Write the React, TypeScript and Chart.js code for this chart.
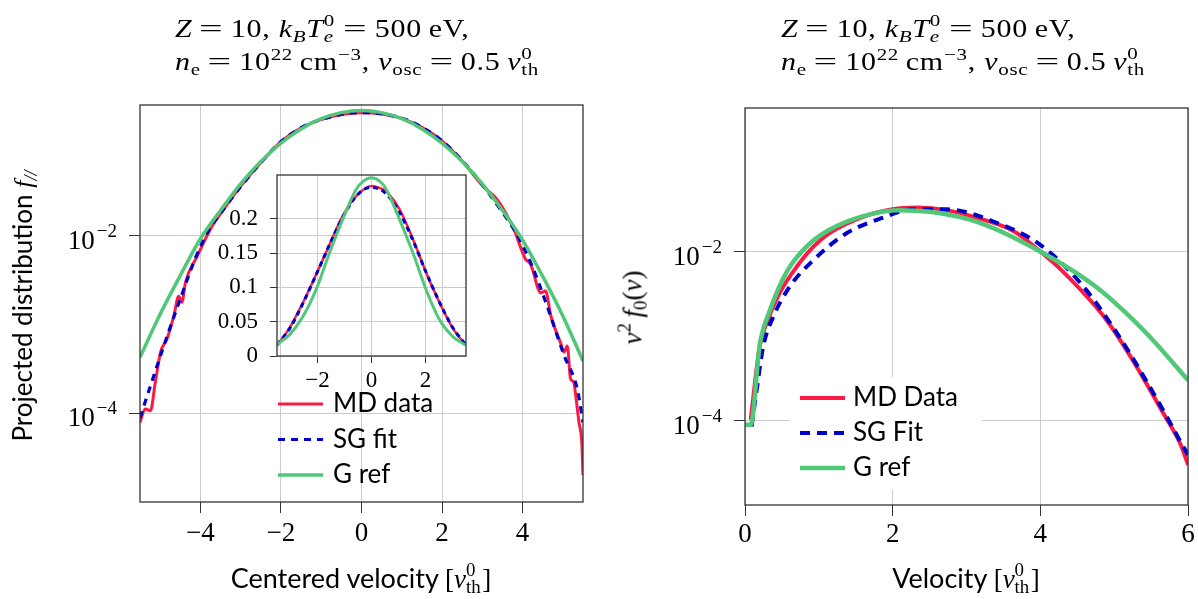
import React, { useEffect, useRef } from 'react';
import { Chart, registerables } from 'chart.js';

Chart.register(...registerables);

// ---------------- data: left panel (log scale) ----------------
const leftMdV = [-5.5, -5.37, -5.24, -5.12, -4.99, -4.83, -4.66, -4.54, -4.46, -4.37, -4.08, -3.75, -3.5, -3.25, -3.0, -2.5, -2.0, -1.5, -1.0, -0.5, 0, 0.5, 1.0, 1.5, 2.0, 2.5, 3.0, 3.37, 3.78, 4.07, 4.2, 4.45, 4.57, 4.7, 4.94, 5.03, 5.11, 5.19, 5.27, 5.32, 5.4, 5.47, 5.5];
const leftMdF = [7.9e-5, 1.12e-4, 1.07e-4, 2.24e-4, 4.9e-4, 6.9e-4, 1.26e-3, 2.09e-3, 1.78e-3, 3.0e-3, 5.9e-3, 0.012, 0.0178, 0.0257, 0.0365, 0.067, 0.116, 0.166, 0.205, 0.234, 0.246, 0.238, 0.212, 0.168, 0.118, 0.07, 0.037, 0.0257, 0.012, 0.0055, 0.0048, 0.00229, 0.0024, 0.00126, 6.3e-4, 4.9e-4, 5.75e-4, 2.45e-4, 2.24e-4, 1.58e-4, 7.9e-5, 4.7e-5, 2.0e-5];
const leftSgV = [-5.5, -5.37, -5.16, -4.91, -4.5, -4.08, -3.75, -3.5, -3.0, -2.5, -2.0, -1.5, -1.0, -0.5, 0, 0.5, 1.0, 1.5, 2.0, 2.5, 3.0, 3.5, 3.78, 4.2, 4.61, 5.03, 5.36, 5.5];
const leftSgF = [8.9e-5, 1.35e-4, 2.63e-4, 5.75e-4, 1.95e-3, 6.3e-3, 0.0125, 0.018, 0.036, 0.067, 0.116, 0.166, 0.206, 0.235, 0.246, 0.239, 0.213, 0.169, 0.118, 0.071, 0.038, 0.0185, 0.012, 0.005, 1.62e-3, 4.5e-4, 1.86e-4, 7.9e-5];
const leftGV = [-5.5, -5.0, -4.5, -4.0, -3.5, -3.0, -2.5, -2.0, -1.5, -1.0, -0.5, 0, 0.5, 1.0, 1.5, 2.0, 2.5, 3.0, 3.5, 4.0, 4.5, 5.0, 5.5];
const leftGF = [4.3e-4, 0.00131, 0.00358, 0.0093, 0.0194, 0.0387, 0.0692, 0.1113, 0.1612, 0.21, 0.2461, 0.2595, 0.2461, 0.21, 0.1612, 0.1113, 0.0692, 0.0387, 0.0194, 0.009, 0.0035, 0.00125, 3.9e-4];

// ---------------- data: inset (linear scale) ----------------
const insetMdV = [-3.5, -3.05, -2.55, -2.06, -1.56, -1.07, -0.57, 0, 0.42, 0.6, 1.04, 1.54, 2.03, 2.53, 3.02, 3.5];
const insetMdF = [0.0157, 0.04, 0.077, 0.118, 0.162, 0.204, 0.233, 0.248, 0.243, 0.238, 0.214, 0.17, 0.121, 0.077, 0.04, 0.0157];
const insetSgV = [-3.5, -3.0, -2.5, -2.0, -1.5, -1.0, -0.5, 0, 0.5, 1.0, 1.5, 2.0, 2.5, 3.0, 3.5];
const insetSgF = [0.016, 0.042, 0.08, 0.123, 0.167, 0.207, 0.236, 0.246, 0.238, 0.212, 0.172, 0.124, 0.08, 0.042, 0.016];
const insetGV = [-3.5, -3.05, -2.55, -2.06, -1.56, -1.07, -0.57, -0.3, 0, 0.3, 0.55, 1.04, 1.54, 2.03, 2.53, 3.02, 3.5];
const insetGF = [0.0171, 0.0304, 0.057, 0.096, 0.15, 0.199, 0.243, 0.255, 0.26, 0.255, 0.243, 0.199, 0.15, 0.096, 0.052, 0.028, 0.0157];

// ---------------- data: right panel (log scale) ----------------
const rightMdV = [0.077, 0.2, 0.29, 0.47, 0.7, 0.93, 1.15, 1.6, 2.0, 2.33, 2.73, 3.18, 3.64, 4.0, 4.31, 4.86, 5.22, 5.67, 5.9, 6.0];
const rightMdF = [1.02e-4, 7.6e-4, 1.41e-3, 3.24e-3, 6.6e-3, 0.0115, 0.0166, 0.0257, 0.0316, 0.0331, 0.0309, 0.0245, 0.0174, 0.01, 0.00575, 0.0017, 5.75e-4, 1.2e-4, 5.2e-5, 3.0e-5];
const rightSgV = [0.09, 0.158, 0.248, 0.384, 0.61, 0.926, 1.38, 1.83, 2.28, 2.73, 3.41, 4.0, 4.54, 4.99, 5.44, 6.0];
const rightSgF = [8.5e-5, 2.29e-4, 7.6e-4, 1.7e-3, 3.89e-3, 7.9e-3, 0.0166, 0.0245, 0.0316, 0.0316, 0.0219, 0.012, 0.00427, 0.00125, 2.9e-4, 3.9e-5];
const rightGV = [0, 0.077, 0.2, 0.34, 0.565, 0.836, 1.15, 1.6, 2.06, 2.51, 3.18, 4.0, 4.77, 5.44, 6.0];
const rightGF = [8.9e-5, 8.9e-5, 7.9e-4, 2.04e-3, 5.75e-3, 0.0115, 0.0182, 0.0263, 0.0309, 0.0295, 0.0219, 0.01, 0.00372, 0.00107, 3.0e-4];

// ---------------- ticks & labels ----------------
const leftXTicks = [-4, -2, 0, 2, 4];
const rightXTicks = [0, 2, 4, 6];
const logYTicks = [1e-4, 1e-2];
const insetXTicks = [-2, 0, 2];
const insetYTicks = [0, 0.05, 0.1, 0.15, 0.2];
const leftLegendLabels = ['MD data', 'SG fit', 'G ref'];
const rightLegendLabels = ['MD Data', 'SG Fit', 'G ref'];

const RED = '#fa1a44';
const BLUE = '#0000cc';
const GREEN = '#50c878';
const GRID = '#cccccc';
const FRAME = '#333333';
const SERIF = '"Liberation Serif", "DejaVu Serif", serif';
const SANS = 'Lato, "Open Sans", sans-serif';

const pts = (xs: number[], ys: number[]) => xs.map((x, i) => ({ x, y: ys[i] }));
const fmt = (v: number) => (v < 0 ? '\u2212' + Math.abs(v) : String(v));

function framePlugin(width: number) {
  return {
    id: 'frame',
    afterDatasetsDraw(chart: any) {
      const { ctx, chartArea: a } = chart;
      ctx.save();
      ctx.strokeStyle = FRAME;
      ctx.lineWidth = width;
      ctx.setLineDash([]);
      ctx.strokeRect(a.left, a.top, a.right - a.left, a.bottom - a.top);
      ctx.restore();
    },
  };
}

function logLabelPlugin(ticks: number[], gap: number) {
  return {
    id: 'logLabels',
    afterDraw(chart: any) {
      const { ctx, chartArea: a } = chart;
      const ys = chart.scales.y;
      ctx.save();
      ctx.fillStyle = '#000';
      ctx.textAlign = 'left';
      ctx.textBaseline = 'alphabetic';
      for (const t of ticks) {
        const py = ys.getPixelForValue(t);
        const exp = '\u2212' + Math.round(-Math.log10(t));
        ctx.font = `19px ${SERIF}`;
        const ew = ctx.measureText(exp).width;
        ctx.font = `27px ${SERIF}`;
        const bw = ctx.measureText('10').width;
        const end = a.left - gap;
        ctx.fillText('10', end - ew - bw - 2, py + 13);
        ctx.font = `19px ${SERIF}`;
        ctx.fillText(exp, end - ew, py + 1);
      }
      ctx.restore();
    },
  };
}

function legendPlugin(cfg: { x0: number; len: number; tx: number; y0: number; dy: number; labels: string[]; box?: number[] }) {
  return {
    id: 'customLegend',
    afterDraw(chart: any) {
      const { ctx } = chart;
      ctx.save();
      if (cfg.box) {
        ctx.fillStyle = '#ffffff';
        ctx.fillRect(cfg.box[0], cfg.box[1], cfg.box[2], cfg.box[3]);
      }
      chart.data.datasets.forEach((ds: any, i: number) => {
        const y = cfg.y0 + i * cfg.dy;
        ctx.strokeStyle = ds.borderColor;
        ctx.lineWidth = ds.borderWidth;
        ctx.setLineDash(ds.borderDash || []);
        ctx.beginPath();
        ctx.moveTo(cfg.x0, y);
        ctx.lineTo(cfg.x0 + cfg.len, y);
        ctx.stroke();
        ctx.setLineDash([]);
        ctx.fillStyle = '#000';
        ctx.font = `26px ${SANS}`;
        ctx.textAlign = 'left';
        ctx.textBaseline = 'alphabetic';
        ctx.fillText(cfg.labels[i], cfg.tx, y + 8);
      });
      ctx.restore();
    },
  };
}

function linScale(min: number, max: number, ticks: number[], size: number, pad: number, tl: number, horizontal: boolean, boxSize: number) {
  return {
    type: 'linear',
    min,
    max,
    afterBuildTicks: (s: any) => {
      s.ticks = ticks.map((v) => ({ value: v }));
    },
    afterFit: (s: any) => {
      if (horizontal) {
        s.height = boxSize;
        s.paddingLeft = 0;
        s.paddingRight = 0;
      } else {
        s.width = boxSize;
        s.paddingTop = 0;
        s.paddingBottom = 0;
      }
    },
    grid: { color: GRID, lineWidth: 1, drawTicks: true, tickLength: tl, tickColor: FRAME, tickWidth: 1 },
    border: { display: false },
    ticks: {
      font: { family: SERIF, size },
      color: '#000',
      padding: pad,
      maxRotation: 0,
      autoSkip: false,
      callback: (v: number) => fmt(v),
    },
  };
}

function logScale(min: number, max: number, tl: number) {
  return {
    type: 'logarithmic',
    min,
    max,
    afterBuildTicks: (s: any) => {
      s.ticks = logYTicks.map((v) => ({ value: v }));
    },
    afterFit: (s: any) => {
      s.width = tl;
      s.paddingTop = 0;
      s.paddingBottom = 0;
    },
    grid: { color: GRID, lineWidth: 1, drawTicks: true, tickLength: tl, tickColor: FRAME, tickWidth: 1 },
    border: { display: false },
    ticks: { display: false },
  };
}

function line(label: string, data: any[], color: string, width: number, order: number, dash?: number[]) {
  return {
    label,
    data,
    borderColor: color,
    backgroundColor: color,
    borderWidth: width,
    borderDash: dash || [],
    pointRadius: 0,
    fill: false,
    cubicInterpolationMode: 'monotone',
    order,
  };
}

const baseOptions = {
  responsive: false,
  animation: false,
  devicePixelRatio: 1,
  events: [],
  parsing: false,
  normalized: true,
  plugins: { legend: { display: false }, tooltip: { enabled: false }, title: { display: false } },
};

// --------- math-ish HTML helpers ---------
const Sup = ({ s, children }: any) => (
  <span style={{ position: 'relative', top: -0.42 * s, fontSize: 0.7 * s }}>{children}</span>
);
const Sub = ({ s, children }: any) => (
  <span style={{ position: 'relative', top: 0.2 * s, fontSize: 0.7 * s }}>{children}</span>
);
const SupSub = ({ s, sup, sub, w }: any) => (
  <span style={{ display: 'inline-block', position: 'relative', width: w, height: 0.8 * s }}>
    <span style={{ position: 'absolute', left: 0, top: (0.8 - 0.42 - 0.586) * s, fontSize: 0.7 * s, lineHeight: `${0.7 * s}px`, whiteSpace: 'nowrap' }}>{sup}</span>
    <span style={{ position: 'absolute', left: 0, top: (0.8 + 0.22 - 0.586) * s, fontSize: 0.7 * s, lineHeight: `${0.7 * s}px`, whiteSpace: 'nowrap' }}>{sub}</span>
  </span>
);
const Eq = ({ s }: any) => (
  <span style={{ display: 'inline-block', width: 0.8 * s, margin: `0 ${0.24 * s}px`, textAlign: 'center' }}>
    <span style={{ display: 'inline-block', transform: 'scaleX(1.4)' }}>=</span>
  </span>
);

function Title({ left }: { left: number }) {
  const s = 25;
  const st: any = {
    position: 'absolute', left, whiteSpace: 'nowrap', fontFamily: SERIF, fontSize: s, lineHeight: `${s}px`,
    letterSpacing: '0.6px', color: '#000', transform: 'scaleX(1.2)', transformOrigin: 'left top',
  };
  return (
    <>
      <div style={{ ...st, top: 36.7 - 0.837 * s }}>
        <i>Z</i><Eq s={s} />10, <i>k</i><Sub s={s}><i>B</i></Sub><i>T</i><SupSub s={s} sup="0" sub={<i>e</i>} w={0.42 * s} /><Eq s={s} />500{'\u2009'}eV,
      </div>
      <div style={{ ...st, top: 70 - 0.837 * s }}>
        <i>n</i><Sub s={s}>e</Sub><Eq s={s} />10<Sup s={s}>22</Sup>{'\u2009'}cm<Sup s={s}>{'\u2212'}3</Sup>, <i>v</i><Sub s={s}>osc</Sub><Eq s={s} />0.5{'\u2009'}<i>v</i><SupSub s={s} sup="0" sub="th" w={0.62 * s} />
      </div>
    </>
  );
}

function XTitle({ cx, text }: { cx: number; text: string }) {
  const s = 27;
  return (
    <div style={{ position: 'absolute', left: cx - 250, width: 500, top: 588 - 0.887 * s, textAlign: 'center', fontFamily: SANS, fontSize: s, lineHeight: `${s}px`, whiteSpace: 'nowrap', color: '#000' }}>
      {text} <span style={{ fontFamily: SERIF }}>[<i>v</i><SupSub s={s} sup="0" sub="th" w={0.6 * s} />]</span>
    </div>
  );
}

export default function App() {
  const leftRef = useRef<HTMLCanvasElement>(null);
  const insetRef = useRef<HTMLCanvasElement>(null);
  const rightRef = useRef<HTMLCanvasElement>(null);

  useEffect(() => {
    const charts: Chart[] = [];

    charts.push(
      new Chart(leftRef.current as HTMLCanvasElement, {
        type: 'line',
        data: {
          datasets: [
            line('MD data', pts(leftMdV, leftMdF), RED, 3, 3),
            line('SG fit', pts(leftSgV, leftSgF), BLUE, 3.2, 2, [7, 6]),
            line('G ref', pts(leftGV, leftGF), GREEN, 3.5, 1),
          ],
        },
        options: {
          ...baseOptions,
          layout: { padding: { left: 129, right: 17, top: 105, bottom: 37 } },
          scales: {
            x: linScale(-5.5, 5.5, leftXTicks, 27, 5, 11, true, 60),
            y: logScale(1e-5, 0.3, 11),
          },
        } as any,
        plugins: [
          framePlugin(1.3),
          logLabelPlugin(logYTicks, 23),
          legendPlugin({ x0: 278, len: 45, tx: 333, y0: 404, dy: 35.5, labels: leftLegendLabels }),
        ],
      } as any)
    );

    charts.push(
      new Chart(insetRef.current as HTMLCanvasElement, {
        type: 'line',
        data: {
          datasets: [
            line('MD data', pts(insetMdV, insetMdF), RED, 2.5, 3),
            line('SG fit', pts(insetSgV, insetSgF), BLUE, 3, 2, [5, 4]),
            line('G ref', pts(insetGV, insetGF), GREEN, 3, 1),
          ],
        },
        options: {
          ...baseOptions,
          layout: { padding: { left: 12, right: 34, top: 25, bottom: 4 } },
          scales: {
            x: linScale(-3.5, 3.5, insetXTicks, 23, 4, 7, true, 40),
            y: linScale(0, 0.264, insetYTicks, 23, 12, 7, false, 65),
          },
        } as any,
        plugins: [framePlugin(1.3)],
      } as any)
    );

    charts.push(
      new Chart(rightRef.current as HTMLCanvasElement, {
        type: 'line',
        data: {
          datasets: [
            line('MD Data', pts(rightMdV, rightMdF), RED, 4, 3),
            line('SG Fit', pts(rightSgV, rightSgF), BLUE, 4, 2, [10, 7]),
            line('G ref', pts(rightGV, rightGF), GREEN, 4.5, 1),
          ],
        },
        options: {
          ...baseOptions,
          layout: { padding: { left: 134, right: 10, top: 108, bottom: 34 } },
          scales: {
            x: linScale(0, 6, rightXTicks, 27, 3, 11, true, 60),
            y: logScale(1e-5, 0.5, 11),
          },
        } as any,
        plugins: [
          framePlugin(1.3),
          logLabelPlugin(logYTicks, 23),
          legendPlugin({ x0: 200, len: 45, tx: 253, y0: 398, dy: 35, labels: rightLegendLabels, box: [190, 377, 192, 113] }),
        ],
      } as any)
    );

    return () => charts.forEach((c) => c.destroy());
  }, []);

  const canvasStyle = (left: number, top: number, w: number, h: number): any => ({ position: 'absolute', left, top, width: w, height: h });

  return (
    <div style={{ position: 'absolute', left: 0, top: 0, width: 1198, height: 599, background: '#fff', overflow: 'hidden' }}>
      <canvas ref={leftRef} width={600} height={599} style={canvasStyle(0, 0, 600, 599)} />
      <canvas ref={rightRef} width={598} height={599} style={canvasStyle(600, 0, 598, 599)} />
      <canvas ref={insetRef} width={300} height={250} style={canvasStyle(200, 150, 300, 250)} />
      <Title left={175} />
      <Title left={781} />
      <XTitle cx={361} text="Centered velocity" />
      <XTitle cx={966} text="Velocity" />
      <div style={{ position: 'absolute', left: 21.7 - 200, top: 306 - 13, width: 400, height: 26, lineHeight: '26px', textAlign: 'center', transform: 'rotate(-90deg)', fontFamily: SANS, fontSize: 26, whiteSpace: 'nowrap', color: '#000' }}>
        Projected distribution <i style={{ fontFamily: SERIF }}>f</i><Sub s={26}><i style={{ fontFamily: SERIF }}>//</i></Sub>
      </div>
      <div style={{ position: 'absolute', left: 633 - 200, top: 307 - 13.5, width: 400, height: 27, lineHeight: '27px', textAlign: 'center', transform: 'rotate(-90deg)', fontFamily: SERIF, fontSize: 27, whiteSpace: 'nowrap', color: '#000' }}>
        <i>v</i><Sup s={27}>2</Sup>{'\u2009'}<i>f</i><Sub s={27}>0</Sub>(<i>v</i>)
      </div>
    </div>
  );
}
